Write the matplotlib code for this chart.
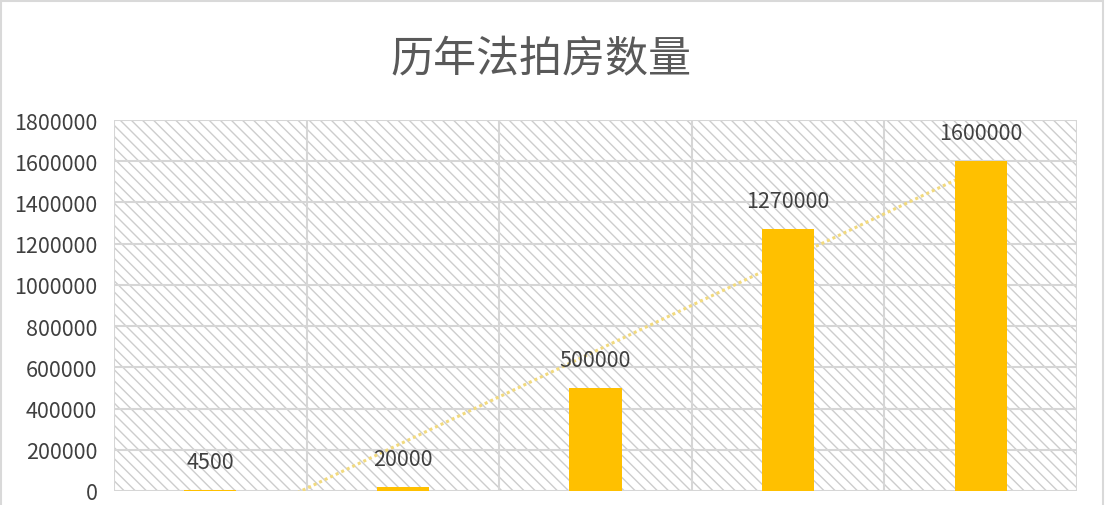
import matplotlib
matplotlib.use("Agg")
import matplotlib.pyplot as plt
from matplotlib.patches import Rectangle
import numpy as np

plt.rcParams['font.family'] = ['Noto Sans CJK SC', 'DejaVu Sans']
plt.rcParams['hatch.linewidth'] = 1.0

title = "历年法拍房数量"
categories = ["1", "2", "3", "4", "5"]
values = [4500, 20000, 500000, 1270000, 1600000]
yticks = [0, 200000, 400000, 600000, 800000, 1000000, 1200000, 1400000, 1600000, 1800000]

W, H = 1106, 506
fig = plt.figure(figsize=(W / 100, H / 100), dpi=100)
fig.patch.set_facecolor('white')

ax = fig.add_axes([114 / W, (H - 492) / H, 963 / W, 371 / H])
x = np.arange(1, len(values) + 1)

# hatched background
bg = Rectangle((0, 0), 1, 1, transform=ax.transAxes, facecolor='white',
               edgecolor='#CDCDCD', hatch='\\\\\\', linewidth=0, zorder=0)
ax.add_patch(bg)
ax.set_facecolor('white')

# grid
for yv in yticks:
    ax.axhline(yv, color='#D6D6D6', lw=1.5, zorder=1)
for b in np.arange(0.5, len(values) + 1, 1.0):
    ax.axvline(b, color='#D6D6D6', lw=1.5, zorder=1)

# linear trendline
coef = np.polyfit(x, values, 1)
ax.plot(x, np.polyval(coef, x), color='#F2DA7E', lw=2.2, ls=(0, (1, 1)), zorder=2)

# bars
ax.bar(x, values, width=0.27, color='#FFC000', zorder=3)

for xi, v in zip(x, values):
    ax.annotate(f"{v}", (xi, v), xytext=(0, 20), textcoords='offset points',
                ha='center', va='center', fontsize=15.5, color='#404040', zorder=4)

ax.set_xlim(0.5, len(values) + 0.5)
ax.set_ylim(0, 1800000)
ax.set_yticks(yticks)
ax.set_yticklabels([str(t) for t in yticks], fontsize=15.5, color='#404040')
ax.set_xticks([])
ax.tick_params(axis='y', length=0, pad=12)
for s in ax.spines.values():
    s.set_visible(False)

fig.text(541 / W, 1 - 60 / H, title, ha='center', va='center', fontsize=31,
         color='#595959', fontweight='light')

# chart border
fig.add_artist(Rectangle((1 / W, -0.1), 1102 / W, 1.1 - 1.5 / H, transform=fig.transFigure,
                         fill=False, edgecolor='#D9D9D9', lw=1.5))

fig.savefig("out.png", dpi=100)
